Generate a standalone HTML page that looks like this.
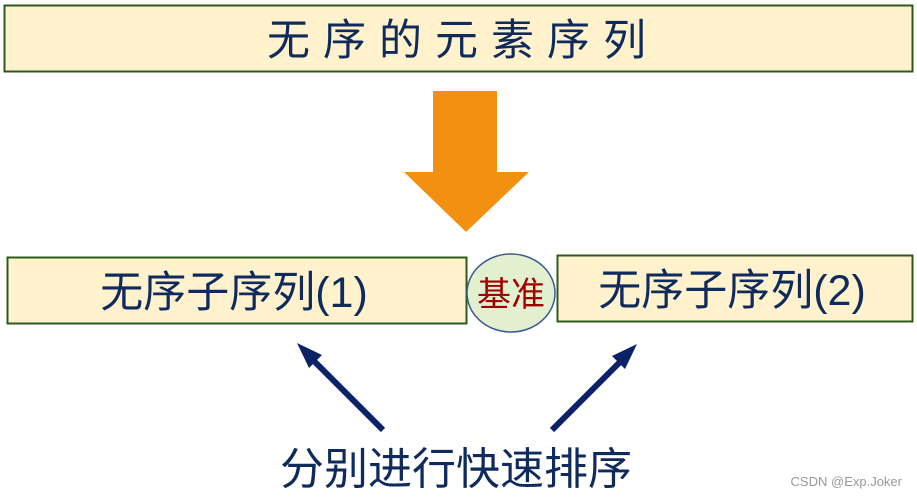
<!DOCTYPE html>
<html><head><meta charset="utf-8"><style>
html,body{margin:0;padding:0;background:#fff;width:917px;height:498px;overflow:hidden}
</style></head><body>
<svg width="917" height="498" xmlns="http://www.w3.org/2000/svg" font-family="'Liberation Sans','Noto Sans CJK SC',sans-serif">
<rect x="4.5" y="5.5" width="908" height="66" fill="#fff2cc" stroke="#2e5a1c" stroke-width="2"/>
<text x="463" y="55" font-size="43" fill="#0f2a5c" text-anchor="middle" letter-spacing="13">无序的元素序列</text>
<polygon points="433,91 497,91 497,172 529,172 466,232 404,172 433,172" fill="#f29111"/>
<rect x="7.5" y="257.5" width="459" height="66" fill="#fff2cc" stroke="#2e5a1c" stroke-width="2"/>
<text x="234" y="307" font-size="43" fill="#0f2a5c" text-anchor="middle">无序子序列(1)</text>
<rect x="557.5" y="255.5" width="355" height="66" fill="#fff2cc" stroke="#2e5a1c" stroke-width="2"/>
<text x="732" y="305" font-size="43" fill="#0f2a5c" text-anchor="middle">无序子序列(2)</text>
<ellipse cx="511" cy="293" rx="44" ry="39" fill="#e2f0cf" stroke="#3a5a90" stroke-width="1.5"/>
<text x="511" y="306" font-size="34" fill="#a00000" text-anchor="middle">基准</text>
<g stroke="#0c2266" stroke-width="6" fill="#0c2266">
<line x1="383" y1="430" x2="310" y2="357"/>
<line x1="552" y1="430" x2="624" y2="358"/>
</g>
<polygon points="297,343 322,355 309,368" fill="#0c2266"/>
<polygon points="637,344 625,369 612,356" fill="#0c2266"/>
<text x="456" y="484" font-size="44" fill="#0f2a5c" text-anchor="middle">分别进行快速排序</text>
<text x="902" y="486" font-size="13" fill="#999" text-anchor="end">CSDN @Exp.Joker</text>
</svg>
</body></html>
